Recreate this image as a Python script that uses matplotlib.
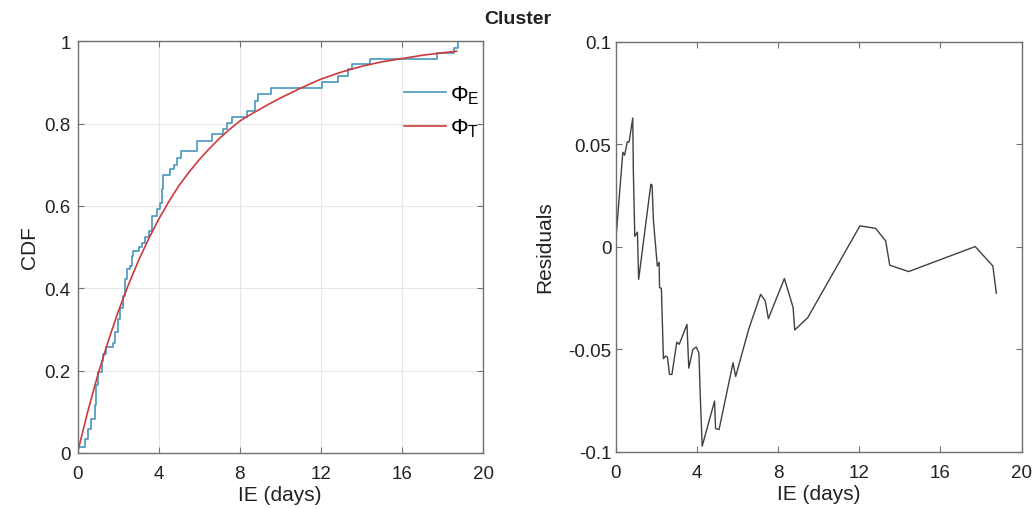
import matplotlib
matplotlib.use("Agg")
import matplotlib.pyplot as plt

plt.rcParams['font.family'] = ['Liberation Sans', 'DejaVu Sans']
plt.rcParams['mathtext.fontset'] = 'custom'
plt.rcParams['mathtext.rm'] = 'Liberation Sans'
plt.rcParams['mathtext.it'] = 'Liberation Sans:italic'

# Empirical CDF (step function: x where each level starts, level)
ecdf_x = [0.0, 0.04, 0.37, 0.53, 0.65, 0.86, 0.92, 1.0, 1.03, 1.19, 1.27, 1.41,
          1.77, 1.85, 2.01, 2.10, 2.22, 2.35, 2.43, 2.59, 2.67, 2.76, 3.01, 3.18,
          3.34, 3.51, 3.67, 3.92, 4.07, 4.15, 4.23, 4.57, 4.75, 4.93, 5.10, 5.90,
          6.62, 7.19, 7.39, 7.60, 8.35, 8.75, 8.92, 9.53, 12.05, 12.87, 13.36,
          13.53, 14.43, 17.75, 18.57, 18.75]
ecdf_y = [0.0, 0.013, 0.033, 0.058, 0.082, 0.115, 0.165, 0.180, 0.196, 0.224, 0.240, 0.256,
          0.268, 0.293, 0.325, 0.353, 0.380, 0.422, 0.446, 0.455, 0.479, 0.490, 0.500, 0.510,
          0.525, 0.540, 0.576, 0.592, 0.608, 0.640, 0.676, 0.689, 0.700, 0.717, 0.733, 0.758,
          0.774, 0.786, 0.802, 0.817, 0.830, 0.855, 0.873, 0.886, 0.900, 0.916, 0.932,
          0.944, 0.958, 0.971, 0.984, 1.0]

# Theoretical CDF
theo_x = [0.04, 0.5, 1, 1.5, 2, 2.5, 3, 3.5, 4, 4.5, 5, 5.5, 6, 6.5, 7, 7.5, 8,
          8.5, 9, 9.5, 10, 11, 12, 13, 14, 15, 16, 17, 18, 18.7]
theo_y = [0.008, 0.099, 0.189, 0.269, 0.342, 0.407, 0.466, 0.519, 0.567, 0.610,
          0.649, 0.682, 0.712, 0.739, 0.764, 0.786, 0.806, 0.821, 0.835, 0.849,
          0.862, 0.886, 0.908, 0.925, 0.939, 0.950, 0.958, 0.966, 0.972, 0.976]

# Residuals
res_x = [0.02, 0.36, 0.45, 0.58, 0.67, 0.85, 0.88, 0.95, 1.08, 1.14, 1.74, 1.80,
         1.87, 2.06, 2.15, 2.17, 2.26, 2.36, 2.46, 2.56, 2.66, 2.78, 3.02, 3.14,
         3.52, 3.61, 3.81, 3.98, 4.11, 4.17, 4.27, 4.88, 4.93, 5.10, 5.79, 5.92,
         6.56, 7.15, 7.38, 7.53, 8.32, 8.75, 8.83, 9.47, 12.04, 12.81, 13.31,
         13.51, 14.44, 17.72, 18.59, 18.76]
res_y = [0.0036, 0.046, 0.0446, 0.0511, 0.051, 0.0627, 0.0363, 0.005, 0.007, -0.016,
         0.0304, 0.030, 0.0125, -0.0095, -0.0077, -0.020, -0.0204, -0.0547, -0.0534,
         -0.054, -0.0624, -0.0624, -0.0466, -0.0477, -0.038, -0.0593, -0.0502, -0.049,
         -0.0521, -0.0712, -0.0974, -0.0754, -0.0888, -0.0893, -0.0567, -0.0634,
         -0.0404, -0.0233, -0.0266, -0.0352, -0.0156, -0.0298, -0.0407, -0.0347,
         0.0101, 0.0089, 0.0027, -0.0091, -0.0122, 0.0, -0.0095, -0.0228]

x_ticks = [0, 4, 8, 12, 16, 20]
cdf_ticks = [0, 0.2, 0.4, 0.6, 0.8, 1]
cdf_ticklabels = ['0', '0.2', '0.4', '0.6', '0.8', '1']
res_ticks = [-0.1, -0.05, 0, 0.05, 0.1]
res_ticklabels = ['-0.1', '-0.05', '0', '0.05', '0.1']

W, H = 1035, 510
fig = plt.figure(figsize=(W / 100, H / 100), dpi=100)

def rect(l, r, t, b):
    return [l / W, (H - b) / H, (r - l) / W, (b - t) / H]

ax1 = fig.add_axes(rect(77.5, 483, 42.3, 453.8))
ax2 = fig.add_axes(rect(615.5, 1021.5, 42.6, 452.5))

spine_col = '#707070'
text_col = '#222222'
for ax in (ax1, ax2):
    for s in ax.spines.values():
        s.set_color(spine_col)
        s.set_linewidth(1.0)
    ax.tick_params(direction='in', length=4, width=0.8, color=spine_col,
                   top=True, right=True, labelsize=13.5, labelcolor=text_col)
    ax.tick_params(axis='x', pad=9)
    ax.set_xlim(0, 20)
    ax.set_xticks(x_ticks)
    ax.set_xlabel('IE (days)', fontsize=15, color=text_col, labelpad=2)

ax1.tick_params(axis='y', pad=5)
ax2.tick_params(axis='y', pad=3)

ax1.plot(ecdf_x, ecdf_y, drawstyle='steps-post', color='#4896bd', lw=1.2,
         label=r'$\mathrm{\Phi}_\mathrm{E}$')
ax1.plot(theo_x, theo_y, color='#cc3a3a', lw=1.2, label=r'$\mathrm{\Phi}_\mathrm{T}$')
ax1.set_ylim(0, 1)
ax1.set_yticks(cdf_ticks)
ax1.set_yticklabels(cdf_ticklabels)
ax1.grid(True, color='#e6e6e6', lw=0.8)
ax1.set_axisbelow(True)
ax1.set_ylabel('CDF', fontsize=15, color=text_col, labelpad=4)
leg = ax1.legend(loc='upper right', bbox_to_anchor=(1.014, 0.92), frameon=False,
                 fontsize=16, handlelength=1.9, handletextpad=0.2,
                 labelspacing=0.5, borderaxespad=0.0)

ax2.plot(res_x, res_y, color='#404040', lw=1.0)
ax2.set_ylim(-0.1, 0.1)
ax2.set_yticks(res_ticks)
ax2.set_yticklabels(res_ticklabels)
ax2.set_ylabel('Residuals', fontsize=15, color=text_col, labelpad=10)

fig.text(0.5, 1 - 20 / H, 'Cluster', ha='center', va='center', fontsize=14,
         fontweight='bold', color=text_col)

fig.savefig('out.png', dpi=100)
